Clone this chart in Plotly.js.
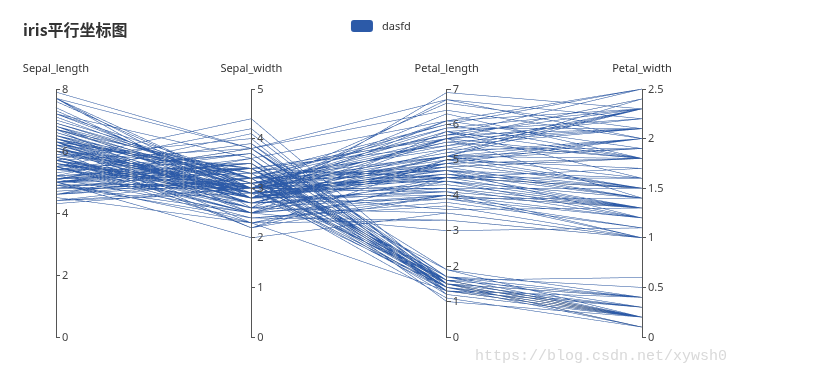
<!DOCTYPE html>
<html>
<head>
<meta charset="utf-8">
<script src="https://cdn.plot.ly/plotly-3.0.1.min.js"></script>
<style>
html,body{margin:0;padding:0;background:#fff;}
#chart{width:825px;height:388px;}
.parcoords .axis .tick text{text-anchor:start !important;text-shadow:none !important;}
.parcoords .axis path.domain{stroke:#555 !important;stroke-opacity:1 !important;stroke-width:1px !important;}
.parcoords .axis .tick line{stroke:#555 !important;stroke-opacity:1 !important;}
</style>
</head>
<body>
<div id="chart"></div>
<script>
const dimensionNames = ['Sepal_length', 'Sepal_width', 'Petal_length', 'Petal_width'];
const seriesName = 'dasfd';
const sepalLength = [5.1,4.9,4.7,4.6,5.0,5.4,4.6,5.0,4.4,4.9,5.4,4.8,4.8,4.3,5.8,5.7,5.4,5.1,5.7,5.1,5.4,5.1,4.6,5.1,4.8,5.0,5.0,5.2,5.2,4.7,4.8,5.4,5.2,5.5,4.9,5.0,5.5,4.9,4.4,5.1,5.0,4.5,4.4,5.0,5.1,4.8,5.1,4.6,5.3,5.0,
7.0,6.4,6.9,5.5,6.5,5.7,6.3,4.9,6.6,5.2,5.0,5.9,6.0,6.1,5.6,6.7,5.6,5.8,6.2,5.6,5.9,6.1,6.3,6.1,6.4,6.6,6.8,6.7,6.0,5.7,5.5,5.5,5.8,6.0,5.4,6.0,6.7,6.3,5.6,5.5,5.5,6.1,5.8,5.0,5.6,5.7,5.7,6.2,5.1,5.7,
6.3,5.8,7.1,6.3,6.5,7.6,4.9,7.3,6.7,7.2,6.5,6.4,6.8,5.7,5.8,6.4,6.5,7.7,7.7,6.0,6.9,5.6,7.7,6.3,6.7,7.2,6.2,6.1,6.4,7.2,7.4,7.9,6.4,6.3,6.1,7.7,6.3,6.4,6.0,6.9,6.7,6.9,5.8,6.8,6.7,6.7,6.3,6.5,6.2,5.9];
const sepalWidth = [3.5,3.0,3.2,3.1,3.6,3.9,3.4,3.4,2.9,3.1,3.7,3.4,3.0,3.0,4.0,4.4,3.9,3.5,3.8,3.8,3.4,3.7,3.6,3.3,3.4,3.0,3.4,3.5,3.4,3.2,3.1,3.4,4.1,4.2,3.1,3.2,3.5,3.1,3.0,3.4,3.5,2.3,3.2,3.5,3.8,3.0,3.8,3.2,3.7,3.3,
3.2,3.2,3.1,2.3,2.8,2.8,3.3,2.4,2.9,2.7,2.0,3.0,2.2,2.9,2.9,3.1,3.0,2.7,2.2,2.5,3.2,2.8,2.5,2.8,2.9,3.0,2.8,3.0,2.9,2.6,2.4,2.4,2.7,2.7,3.0,3.4,3.1,2.3,3.0,2.5,2.6,3.0,2.6,2.3,2.7,3.0,2.9,2.9,2.5,2.8,
3.3,2.7,3.0,2.9,3.0,3.0,2.5,2.9,2.5,3.6,3.2,2.7,3.0,2.5,2.8,3.2,3.0,3.8,2.6,2.2,3.2,2.8,2.8,2.7,3.3,3.2,2.8,3.0,2.8,3.0,2.8,3.8,2.8,2.8,2.6,3.0,3.4,3.1,3.0,3.1,3.1,3.1,2.7,3.2,3.3,3.0,2.5,3.0,3.4,3.0];
const petalLength = [1.4,1.4,1.3,1.5,1.4,1.7,1.4,1.5,1.4,1.5,1.5,1.6,1.4,1.1,1.2,1.5,1.3,1.4,1.7,1.5,1.7,1.5,1.0,1.7,1.9,1.6,1.6,1.5,1.4,1.6,1.6,1.5,1.5,1.4,1.5,1.2,1.3,1.5,1.3,1.5,1.3,1.3,1.3,1.6,1.9,1.4,1.6,1.4,1.5,1.4,
4.7,4.5,4.9,4.0,4.6,4.5,4.7,3.3,4.6,3.9,3.5,4.2,4.0,4.7,3.6,4.4,4.5,4.1,4.5,3.9,4.8,4.0,4.9,4.7,4.3,4.4,4.8,5.0,4.5,3.5,3.8,3.7,3.9,5.1,4.5,4.5,4.7,4.4,4.1,4.0,4.4,4.6,4.0,3.3,4.2,4.2,4.2,4.3,3.0,4.1,
6.0,5.1,5.9,5.6,5.8,6.6,4.5,6.3,5.8,6.1,5.1,5.3,5.5,5.0,5.1,5.3,5.5,6.7,6.9,5.0,5.7,4.9,6.7,4.9,5.7,6.0,4.8,4.9,5.6,5.8,6.1,6.4,5.6,5.1,5.6,6.1,5.6,5.5,4.8,5.4,5.6,5.1,5.1,5.9,5.7,5.2,5.0,5.2,5.4,5.1];
const petalWidth = [0.2,0.2,0.2,0.2,0.2,0.4,0.3,0.2,0.2,0.1,0.2,0.2,0.1,0.1,0.2,0.4,0.4,0.3,0.3,0.3,0.2,0.4,0.2,0.5,0.2,0.2,0.4,0.2,0.2,0.2,0.2,0.4,0.1,0.2,0.1,0.2,0.2,0.1,0.2,0.2,0.3,0.3,0.2,0.6,0.4,0.3,0.2,0.2,0.2,0.2,
1.4,1.5,1.5,1.3,1.5,1.3,1.6,1.0,1.3,1.4,1.0,1.5,1.0,1.4,1.3,1.4,1.5,1.0,1.5,1.1,1.8,1.3,1.5,1.2,1.3,1.4,1.4,1.7,1.5,1.0,1.1,1.0,1.2,1.6,1.5,1.6,1.5,1.3,1.3,1.3,1.2,1.4,1.2,1.0,1.3,1.2,1.3,1.3,1.1,1.3,
2.5,1.9,2.1,1.8,2.2,2.1,1.7,1.8,1.8,2.5,2.0,1.9,2.1,2.0,2.4,2.3,1.8,2.2,2.3,1.5,2.3,2.0,2.0,1.8,2.1,1.8,1.8,1.8,2.1,1.6,1.9,2.0,2.2,1.5,1.4,2.3,2.4,1.8,1.8,2.1,2.4,2.3,1.9,2.3,2.5,2.3,1.9,2.0,2.3,1.8];
const axisMax = [8, 5, 7, 2.5];
const tickValues = [[0,2,4,6,8],[0,1,2,3,4,5],[0,1,2,3,4,5,6,7],[0,0.5,1,1.5,2,2.5]];
const tickLabels = [['0','2','4','6','8'],['0','1','2','3','4','5'],['0','1','2','3','4','5','6','7'],['0','0.5','1','1.5','2','2.5']];

const columns = [sepalLength, sepalWidth, petalLength, petalWidth];
const dims = dimensionNames.map((n, i) => ({
  label: n, values: columns[i], range: [0, axisMax[i]],
  tickvals: tickValues[i], ticktext: tickLabels[i]
}));

const data = [
  {
    type: 'parcoords',
    domain: {x: [0, 1], y: [0, 1]},
    line: {color: '#2c5aa8'},
    dimensions: dims,
    labelfont: {size: 11, color: '#333', family: 'Noto Sans, sans-serif'},
    tickfont: {size: 11, color: '#444', family: 'Noto Sans, sans-serif'},
    rangefont: {size: 1, color: 'rgba(0,0,0,0)'},
    labelangle: 0
  },
  {
    type: 'bar', x: [null], y: [null], name: seriesName,
    marker: {color: '#2c5aa8'}, showlegend: true, hoverinfo: 'skip'
  }
];

const layout = {
  width: 825, height: 388,
  margin: {l: 56, r: 183, t: 85, b: 49},
  paper_bgcolor: '#fff', plot_bgcolor: '#fff',
  title: {
    text: '<b>iris平行坐标图</b>', xref: 'container', yref: 'container',
    x: 23/825, xanchor: 'left', y: 1 - 30/388, yanchor: 'middle',
    font: {size: 16, color: '#333', family: 'Noto Sans CJK SC, sans-serif'}
  },
  xaxis: {visible: false}, yaxis: {visible: false},
  showlegend: true,
  legend: {
    orientation: 'h', x: 0.488, xanchor: 'left', y: 1.3, yanchor: 'top',
    font: {size: 11, color: '#333', family: 'Noto Sans, sans-serif'},
    bgcolor: 'rgba(0,0,0,0)'
  },
  annotations: [{
    text: 'https://blog.csdn.net/xywsh0', xref: 'paper', yref: 'paper',
    x: 0.93, y: -0.07, xanchor: 'center', yanchor: 'middle', showarrow: false,
    font: {size: 15, color: '#d9d9d9', family: 'Liberation Mono, DejaVu Sans Mono, monospace'}
  }]
};

Plotly.newPlot('chart', data, layout, {displayModeBar: false, staticPlot: true}).then(gd => {
  gd.querySelectorAll('.parcoords .axis .tick').forEach(t => {
    const ln = t.querySelector('line');
    if (ln) ln.setAttribute('x2', 4);
    const tx = t.querySelector('text');
    if (tx) tx.setAttribute('x', 6);
  });
  gd.querySelectorAll('.parcoords .axis path.domain').forEach(p => {
    p.setAttribute('d', p.getAttribute('d').replace(/-(\d)/g, '$1'));
  });
  gd.querySelectorAll('.parcoords .axis-title').forEach(t => {
    t.setAttribute('y', 13);
  });
  gd.querySelectorAll('.legend .legendpoints path').forEach(p => {
    p.setAttribute('d', 'M-8,-6H8A3,3 0 0 1 11,-3V3A3,3 0 0 1 8,6H-8A3,3 0 0 1 -11,3V-3A3,3 0 0 1 -8,-6Z');
  });
});
</script>
</body>
</html>
